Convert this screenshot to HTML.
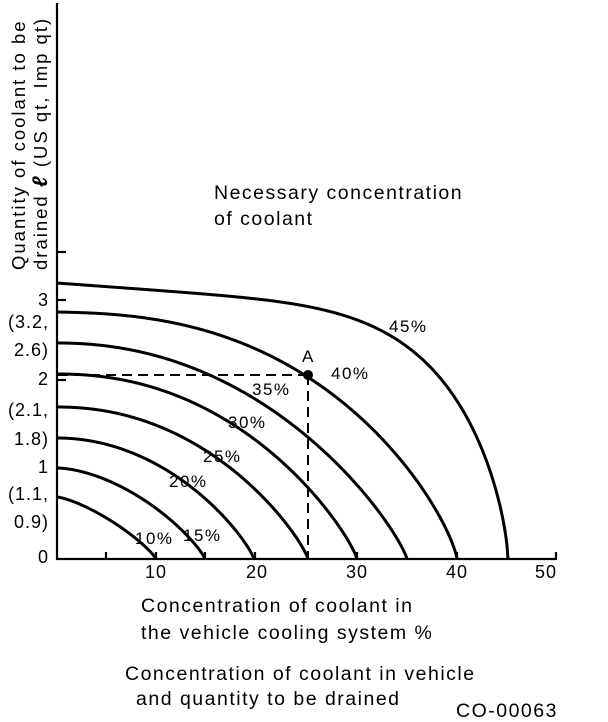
<!DOCTYPE html>
<html><head><meta charset="utf-8"><style>
html,body{margin:0;padding:0;background:#fff}
svg{display:block}
text{font-family:"Liberation Sans",Arial,sans-serif;fill:#000}
</style></head><body>
<svg id="s" width="608" height="722" viewBox="0 0 608 722" xmlns="http://www.w3.org/2000/svg">
<g stroke="#000" stroke-width="2.2" fill="none">
<line x1="57" y1="3" x2="57" y2="559"/>
<line x1="56" y1="559" x2="557" y2="559"/>
<line x1="106" y1="559" x2="106" y2="552"/>
<line x1="156" y1="559" x2="156" y2="552"/>
<line x1="205" y1="559" x2="205" y2="552"/>
<line x1="255" y1="559" x2="255" y2="552"/>
<line x1="357" y1="559" x2="357" y2="552"/>
<line x1="457" y1="559" x2="457" y2="552"/>
<line x1="556" y1="559" x2="556" y2="552"/>
<line x1="57" y1="252" x2="66" y2="252"/>
<line x1="57" y1="300" x2="66" y2="300"/>
<line x1="57" y1="380" x2="66" y2="380"/>
</g>
<g stroke="#000" stroke-width="2" stroke-dasharray="10,6" fill="none">
<line x1="58" y1="375" x2="306" y2="375"/>
<line x1="308" y1="375" x2="308" y2="558"/>
</g>
<g id="curves" stroke="#000" stroke-width="3" fill="none"></g>
<circle cx="308" cy="375" r="5" fill="#000"/>
<g font-size="17" letter-spacing="1.5">
<text x="389" y="332">45%</text>
<text x="331" y="379">40%</text>
<text x="252" y="395">35%</text>
<text x="228" y="428">30%</text>
<text x="203" y="462">25%</text>
<text x="169" y="487">20%</text>
<text x="183" y="541">15%</text>
<text x="135" y="544">10%</text>
<text x="302" y="362">A</text>
</g>
<g font-size="18" text-anchor="end" letter-spacing="1">
<text x="49" y="563">0</text>
<text x="49" y="528">0.9)</text>
<text x="49" y="500">(1.1,</text>
<text x="49" y="473">1</text>
<text x="49" y="445">1.8)</text>
<text x="49" y="416">(2.1,</text>
<text x="49" y="385">2</text>
<text x="49" y="356">2.6)</text>
<text x="49" y="328">(3.2,</text>
<text x="49" y="306">3</text>
</g>
<g font-size="18" text-anchor="middle" letter-spacing="1">
<text x="156" y="578">10</text>
<text x="257" y="578">20</text>
<text x="357" y="578">30</text>
<text x="457" y="578">40</text>
<text x="546" y="578">50</text>
</g>
<g font-size="19.5" letter-spacing="1.5">
<text x="214" y="199">Necessary concentration</text>
<text x="214" y="225">of coolant</text>
<text x="141" y="612">Concentration of coolant in</text>
<text x="141" y="639">the vehicle cooling system %</text>
<text x="125" y="680">Concentration of coolant in vehicle</text>
<text x="136" y="705">and quantity to be drained</text>
<text x="456" y="717">CO-00063</text>
</g>
<g font-size="18.5" letter-spacing="2">
<text transform="translate(25,270) rotate(-90)">Quantity of coolant to be</text>
<text transform="translate(47,270) rotate(-90)">drained <tspan font-style="italic" font-weight="bold" font-size="21">ℓ</tspan> (US qt, Imp qt)</text>
</g>
</svg>
<script>
var C=[[99,497,1.35,1.2,0],[148,468,1.7,1.2,0],[197,438,2.0,1.2,0],[251,407,2.1,1.2,0],[300,374,2.15,1.2,0],[350,343,2.1,1.2,0],[400,312,2.5,1.3,0.03],[451,283,6,1.5,0.12]];
var g=document.getElementById('curves'),ns='http://www.w3.org/2000/svg';
C.forEach(function(c){
 var L=c[0],H=559-c[1],n=c[2],m=c[3],k=c[4],d='';
 for(var i=0;i<=400;i++){
  var t=i/400;
  var r=(1-k*t)*Math.pow(Math.max(0,1-Math.pow(t,n)),1/m);
  var x=57+L*t, y=559-H*r;
  d+=(i?' L':'M')+x.toFixed(2)+','+y.toFixed(2);
 }
 var e=document.createElementNS(ns,'path');e.setAttribute('d',d);g.appendChild(e);
});
</script>
</body></html>
